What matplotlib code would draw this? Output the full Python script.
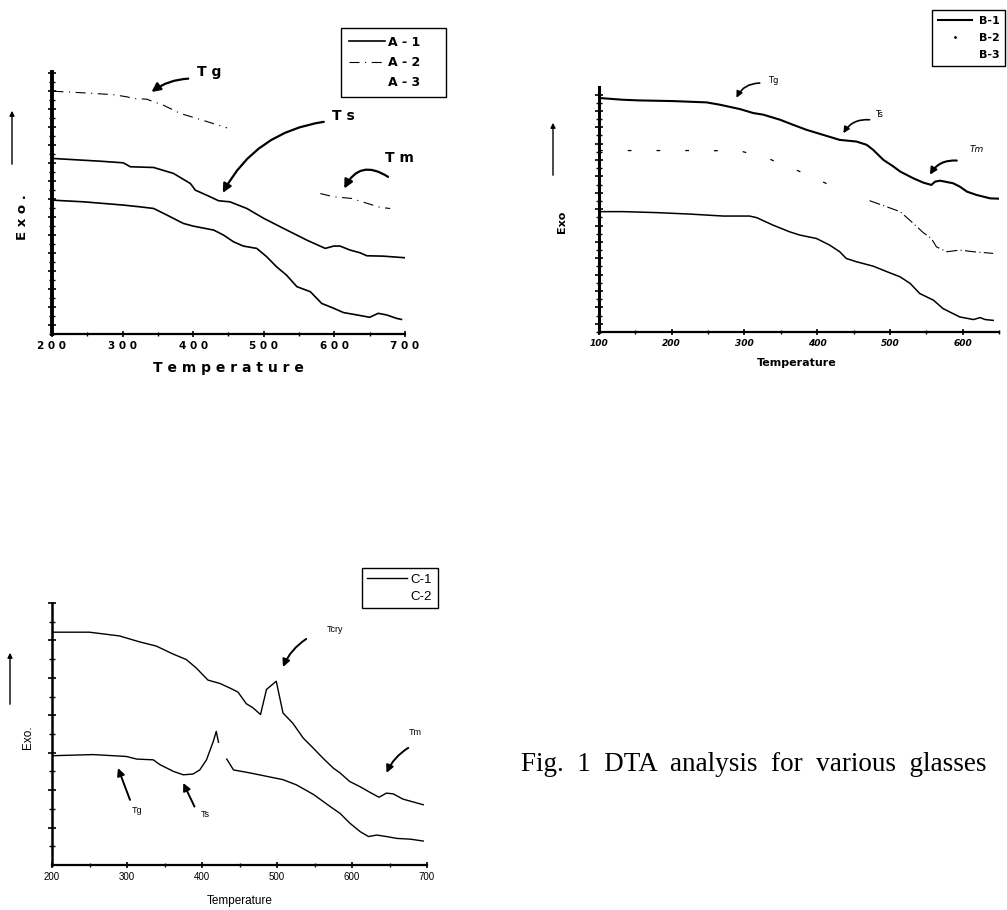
import numpy as np
import matplotlib
matplotlib.use('Agg')
import matplotlib.pyplot as plt
from matplotlib.lines import Line2D

# ---- data (arbitrary Exo units) ----
a1_t = [202, 268, 301, 311, 344, 372, 396, 403, 419, 436, 452, 476, 500, 528, 561, 587, 599, 608, 622, 636, 646, 669, 700]
a1_y = [9.76, 9.61, 9.52, 9.30, 9.26, 8.93, 8.37, 8.00, 7.72, 7.41, 7.35, 6.98, 6.43, 5.87, 5.22, 4.76, 4.89, 4.89, 4.67, 4.52, 4.35, 4.33, 4.24]
a2_t = [202, 245, 287, 306, 316, 334, 358, 382, 410, 448, np.nan, 580, 599, 624, 665, 679]
a2_y = [13.50, 13.41, 13.31, 13.19, 13.09, 13.06, 12.72, 12.26, 11.93, 11.46, np.nan, 7.81, 7.63, 7.54, 7.04, 6.98]
a3_t = [202, 245, 301, 325, 344, 363, 386, 400, 429, 443, 457, 471, 490, 504, 518, 532, 547, 566, 582, 599, 613, 632, 650, 662, 674, 688, 695]
a3_y = [7.44, 7.35, 7.17, 7.07, 6.98, 6.61, 6.15, 6.00, 5.78, 5.50, 5.13, 4.89, 4.76, 4.30, 3.74, 3.28, 2.63, 2.35, 1.70, 1.43, 1.19, 1.06, 0.93, 1.15, 1.06, 0.87, 0.81]

b1_t = [100, 133, 156, 202, 248, 266, 294, 312, 326, 349, 367, 385, 408, 431, 454, 468, 477, 491, 505, 514, 532, 546, 557, 562, 569, 587, 596, 606, 619, 638, 650]
b1_y = [14.29, 14.18, 14.14, 14.10, 14.02, 13.88, 13.61, 13.37, 13.27, 12.96, 12.65, 12.35, 12.04, 11.73, 11.63, 11.43, 11.12, 10.51, 10.10, 9.80, 9.39, 9.12, 8.98, 9.18, 9.24, 9.08, 8.88, 8.57, 8.37, 8.16, 8.14]
b2_early_t = [100, 156, 188, 206, 238, 294, 335, 374, 417]
b2_early_y = [11.08, 11.08, 11.08, 11.08, 11.08, 11.06, 10.55, 9.84, 8.98]
b2_late_t = [472, 514, 528, 546, 557, 564, 578, 596, 615, 642]
b2_late_y = [8.02, 7.35, 6.80, 6.06, 5.71, 5.20, 4.90, 5.00, 4.90, 4.80]
b3_t = [100, 133, 179, 225, 271, 307, 317, 339, 362, 376, 399, 417, 431, 440, 454, 477, 500, 514, 528, 541, 560, 573, 596, 615, 624, 631, 642]
b3_y = [7.35, 7.35, 7.29, 7.20, 7.08, 7.08, 6.98, 6.53, 6.12, 5.92, 5.71, 5.31, 4.90, 4.49, 4.29, 4.02, 3.61, 3.37, 2.96, 2.35, 1.94, 1.43, 0.92, 0.76, 0.88, 0.76, 0.71]

c1_t = [201, 250, 290, 317, 339, 361, 379, 392, 408, 424, 437, 448, 459, 468, 478, 486, 499, 508, 521, 535, 548, 561, 575, 584, 597, 610, 624, 636, 646, 655, 668, 695]
c1_y = [6.22, 6.22, 6.12, 5.96, 5.85, 5.64, 5.49, 5.27, 4.94, 4.85, 4.73, 4.62, 4.31, 4.20, 4.02, 4.69, 4.91, 4.06, 3.79, 3.39, 3.13, 2.86, 2.59, 2.46, 2.23, 2.10, 1.94, 1.81, 1.92, 1.90, 1.76, 1.61]
c2_t = [201, 255, 299, 313, 335, 344, 362, 375, 388, 397, 406, 415, 419, 422, np.nan, 433, 442, 464, 486, 508, 526, 549, 571, 584, 597, 611, 622, 633, 646, 660, 678, 695]
c2_y = [2.92, 2.95, 2.90, 2.83, 2.81, 2.68, 2.50, 2.41, 2.43, 2.54, 2.81, 3.30, 3.57, 3.28, np.nan, 2.83, 2.54, 2.46, 2.37, 2.28, 2.14, 1.88, 1.56, 1.38, 1.12, 0.89, 0.76, 0.80, 0.76, 0.71, 0.69, 0.64]

a_ticks = [200, 300, 400, 500, 600, 700]
b_ticks = [100, 200, 300, 400, 500, 600]
c_ticks = [200, 300, 400, 500, 600, 700]

W, H = 1007, 910
fig = plt.figure(figsize=(W / 100, H / 100), dpi=100)


def box(l, t, r, b):
    return [l / W, 1 - b / H, (r - l) / W, (b - t) / H]


def fx(x):
    return x / W


def fy(y):
    return 1 - y / H


def style_axes(ax, left_lw, step):
    for s in ['top', 'right']:
        ax.spines[s].set_visible(False)
    ax.spines['left'].set_linewidth(left_lw)
    ax.spines['bottom'].set_linewidth(1.6)
    lo, hi = ax.get_ylim()
    ax.set_yticks(np.arange(lo + step / 2, hi, step))
    ax.set_yticks(np.arange(lo, hi, step / 2), minor=True)
    ax.tick_params(axis='y', which='major', direction='inout', length=6, width=1.2, labelleft=False)
    ax.tick_params(axis='y', which='minor', direction='inout', length=4, width=1.0)
    ax.tick_params(axis='x', which='major', direction='inout', length=4, width=1.2, pad=3)
    ax.tick_params(axis='x', which='minor', direction='inout', length=3, width=1.0)


def arrow(ax, start, end, rad, lw=1.6, ms=13):
    ax.annotate('', xy=end, xytext=start,
                arrowprops=dict(arrowstyle='-|>', color='black', lw=lw, mutation_scale=ms,
                                shrinkA=0, shrinkB=0, connectionstyle='arc3,rad=%s' % rad))


def up_arrow(x, y0, y1):
    fig.add_artist(matplotlib.patches.FancyArrowPatch(
        (fx(x), fy(y0)), (fx(x), fy(y1)), transform=fig.transFigure,
        arrowstyle='-|>', mutation_scale=7, color='black', lw=1.0))


# ---------------- panel A ----------------
axA = fig.add_axes(box(52, 72, 405, 334))
l1, = axA.plot(a1_t, a1_y, color='black', lw=1.2)
l2, = axA.plot(a2_t, a2_y, color='black', lw=0.8, linestyle=(0, (9, 5, 1, 5)))
axA.plot(a3_t, a3_y, color='black', lw=1.2)
axA.set_xlim(200, 700)
axA.set_ylim(0, 14.57)
style_axes(axA, 2.8, 1.0)
axA.set_xticks(a_ticks)
axA.set_xticks(np.arange(250, 700, 100), minor=True)
axA.set_xticklabels([' '.join(str(t)) for t in a_ticks], fontsize=7.5, fontweight='bold')
axA.legend([l1, l2, Line2D([], [], color='none')], ['A - 1    ', 'A - 2    ', 'A - 3    '],
           loc='upper left', bbox_to_anchor=(fx(341), fy(28)), bbox_transform=fig.transFigure,
           fancybox=False, edgecolor='black', framealpha=1, borderaxespad=0,
           handlelength=2.9, handletextpad=0.3, labelspacing=0.6, borderpad=0.6,
           prop=dict(size=9, weight='bold'))
fig.text(fx(228), fy(368), 'T e m p e r a t u r e', ha='center', va='center',
         fontsize=10, fontweight='bold')
fig.text(fx(23), fy(217), 'E x o .', ha='center', va='center', rotation=90,
         fontsize=9.5, fontweight='bold')
up_arrow(12, 167, 108)
axA.text(405, 14.57, 'T g', fontsize=10, fontweight='bold', ha='left', va='center')
arrow(axA, (393, 14.2), (341, 13.46), 0.15)
axA.text(596, 12.1, 'T s', fontsize=10, fontweight='bold', ha='left', va='center')
arrow(axA, (585, 11.8), (442, 7.85), 0.25)
axA.text(671, 9.76, 'T m', fontsize=10, fontweight='bold', ha='left', va='center')
arrow(axA, (676, 8.74), (614, 8.09), 0.55)

# ---------------- panel B ----------------
axB = fig.add_axes(box(599, 87, 999, 332))
m1, = axB.plot(b1_t, b1_y, color='black', lw=1.5)
axB.plot(b2_early_t, b2_early_y, color='black', lw=0.9, linestyle=(0, (3, 20)))
axB.plot(b2_late_t, b2_late_y, color='black', lw=0.8, linestyle=(0, (10, 3, 1, 3)))
axB.plot(b3_t, b3_y, color='black', lw=1.1)
axB.set_xlim(100, 650)
axB.set_ylim(0, 14.96)
style_axes(axB, 2.2, 1.0)
axB.set_xticks(b_ticks)
axB.set_xticks(np.arange(150, 651, 100), minor=True)
axB.set_xticklabels([str(t) for t in b_ticks], fontsize=6.5, fontweight='bold', fontstyle='italic')
m2 = Line2D([], [], color='black', marker='.', markersize=2, linestyle='none')
axB.legend([m1, m2, Line2D([], [], color='none')], ['B-1', 'B-2', 'B-3'],
           loc='upper left', bbox_to_anchor=(fx(932), fy(10)), bbox_transform=fig.transFigure,
           fancybox=False, edgecolor='black', framealpha=1, borderaxespad=0,
           handlelength=3.1, handletextpad=0.6, labelspacing=0.65, borderpad=0.5,
           prop=dict(size=8, weight='bold'))
fig.text(fx(797), fy(363), 'Temperature', ha='center', va='center', fontsize=8, fontweight='bold')
fig.text(fx(562), fy(222), 'Exo', ha='center', va='center', rotation=90, fontsize=8, fontweight='bold')
up_arrow(553, 178, 120)
axB.text(333, 15.35, 'Tg', fontsize=6, ha='left', va='center')
arrow(axB, (321, 15.2), (289, 14.3), 0.3, lw=1.2, ms=9)
axB.text(480, 13.3, 'Ts', fontsize=6, ha='left', va='center')
arrow(axB, (472, 12.96), (436, 12.14), 0.3, lw=1.2, ms=9)
axB.text(610, 11.12, 'Tm', fontsize=6.5, fontstyle='italic', ha='left', va='center')
arrow(axB, (592, 10.47), (555, 9.6), 0.3, lw=1.5, ms=10)

# ---------------- panel C ----------------
axC = fig.add_axes(box(52, 603, 427, 865))
n1, = axC.plot(c1_t, c1_y, color='black', lw=1.0)
axC.plot(c2_t, c2_y, color='black', lw=1.0)
axC.set_xlim(200, 700)
axC.set_ylim(0, 7.0)
style_axes(axC, 1.8, 1.0)
axC.set_yticks(np.arange(1, 7.01, 1))
axC.set_yticks(np.arange(0.5, 7, 1), minor=True)
axC.set_xticks(c_ticks)
axC.set_xticks(np.arange(250, 700, 100), minor=True)
axC.set_xticklabels([str(t) for t in c_ticks], fontsize=7, family='Liberation Sans')
axC.legend([n1, Line2D([], [], color='none')], ['C-1', 'C-2'],
           loc='upper left', bbox_to_anchor=(fx(362), fy(568)), bbox_transform=fig.transFigure,
           fancybox=False, edgecolor='black', framealpha=1, borderaxespad=0,
           handlelength=3.0, handletextpad=0.3, labelspacing=0.4, borderpad=0.4,
           prop=dict(size=9.5, family='Liberation Sans'))
fig.text(fx(240), fy(901), 'Temperature', ha='center', va='center', fontsize=8.5,
         family='Liberation Sans')
fig.text(fx(28), fy(737), 'Exo.', ha='center', va='center', rotation=90, fontsize=8.5,
         family='Liberation Sans')
up_arrow(10, 707, 650)
axC.text(566, 6.29, 'Tcry', fontsize=6.5, family='Liberation Sans', ha='left', va='center')
arrow(axC, (539, 6.04), (508, 5.29), 0.15, lw=1.4, ms=11)
axC.text(676, 3.54, 'Tm', fontsize=6.5, family='Liberation Sans', ha='left', va='center')
arrow(axC, (675, 3.13), (646, 2.46), 0.15, lw=1.4, ms=11)
axC.text(306, 1.45, 'Tg', fontsize=6.5, family='Liberation Sans', ha='left', va='center')
arrow(axC, (304, 1.74), (288, 2.59), 0.0, lw=1.4, ms=11)
axC.text(398, 1.35, 'Ts', fontsize=6.5, family='Liberation Sans', ha='left', va='center')
arrow(axC, (390, 1.56), (375, 2.19), 0.0, lw=1.4, ms=11)

fig.text(fx(521), fy(771), 'Fig.  1  DTA  analysis  for  various  glasses',
         ha='left', va='baseline', fontsize=19.5, family='Liberation Serif')

fig.savefig('out.png', dpi=100)
